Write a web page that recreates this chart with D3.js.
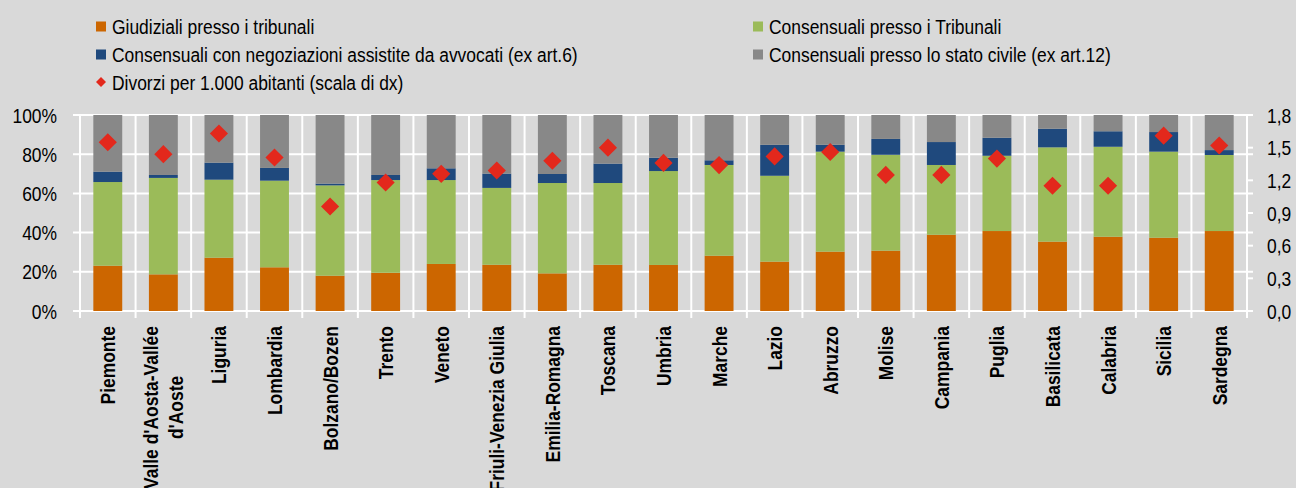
<!DOCTYPE html>
<html>
<head>
<meta charset="utf-8">
<script src="https://cdn.jsdelivr.net/npm/d3@7"></script>
<style>
  body { margin: 0; background: #d9d9d9; }
  svg { display: block; font-family: "Liberation Sans", Arial, sans-serif; }
</style>
</head>
<body>
<svg id="chart" width="1296" height="488"></svg>
<script>
const regions = ['Piemonte', "Valle d'Aosta-Vallée\nd'Aoste", 'Liguria', 'Lombardia', 'Bolzano/Bozen',
    'Trento', 'Veneto', 'Friuli-Venezia Giulia', 'Emilia-Romagna', 'Toscana', 'Umbria', 'Marche',
    'Lazio', 'Abruzzo', 'Molise', 'Campania', 'Puglia', 'Basilicata', 'Calabria', 'Sicilia', 'Sardegna'];

// quote % per tipo di procedimento
const giudiziali = [23.1, 18.7, 27.2, 22.3, 18.0, 19.5, 24.0, 23.6, 19.2, 23.6, 23.5, 28.2, 25.2, 30.3, 30.8, 38.9, 40.8, 35.4, 37.9, 37.4, 40.8];
const consTribunali = [42.7, 49.2, 39.8, 44.2, 46.1, 47.3, 42.8, 39.2, 46.1, 41.7, 47.9, 46.3, 43.8, 51.0, 48.9, 35.6, 38.4, 48.1, 45.9, 43.9, 38.8];
const consAvvocati = [5.3, 1.5, 8.7, 6.5, 0.9, 2.6, 6.0, 7.3, 4.6, 9.9, 6.8, 2.4, 15.8, 3.5, 8.1, 11.7, 9.2, 9.5, 7.9, 10.0, 2.5];
const consStatoCivile = [28.9, 30.6, 24.3, 27.0, 35.0, 30.6, 27.2, 29.9, 30.1, 24.8, 21.8, 23.1, 15.2, 15.2, 12.2, 13.8, 11.6, 7.0, 8.3, 8.7, 17.9];

// divorzi per 1.000 abitanti (scala di dx)
const divorzi = [1.55, 1.44, 1.63, 1.41, 0.96, 1.18, 1.26, 1.29, 1.38, 1.50, 1.36, 1.34, 1.42, 1.46, 1.25, 1.25, 1.40, 1.15, 1.15, 1.61, 1.52];

const leftTicks = [0, 20, 40, 60, 80, 100];
const rightTicks = [0, 0.3, 0.6, 0.9, 1.2, 1.5, 1.8];

const seriesKeys = ['giud', 'trib', 'avv', 'civ'];
const seriesNames = {
    giud: 'Giudiziali presso i tribunali',
    trib: 'Consensuali presso i Tribunali',
    avv: 'Consensuali con negoziazioni assistite da avvocati (ex art.6)',
    civ: 'Consensuali presso lo stato civile (ex art.12)'
};
const colors = {giud: '#cc6600', trib: '#9bbb59', avv: '#1f497d', civ: '#888888'};

const table = regions.map((r, i) => ({
    region: r,
    giud: giudiziali[i],
    trib: consTribunali[i],
    avv: consAvvocati[i],
    civ: consStatoCivile[i],
    div: divorzi[i]
}));

const svg = d3.select('#chart');
const plotLeft = 80, plotRight = 1247, plotTop = 115, plotBottom = 311;
const narrow = 0.83; // il font originale è un "narrow"

const x = d3.scaleBand()
    .domain(regions)
    .range([plotLeft, plotRight])
    .paddingInner(0.48)
    .paddingOuter(0.24);

const y = d3.scaleLinear().domain([0, 100]).range([plotBottom, plotTop]);
const y2 = d3.scaleLinear().domain([0, 1.8]).range([plotBottom, plotTop]);

const step = x.step();

// griglia orizzontale
svg.append('g')
    .attr('class', 'hgrid')
    .selectAll('line')
    .data(leftTicks)
    .enter().append('line')
    .attr('x1', plotLeft - 7)
    .attr('x2', plotRight + 6)
    .attr('y1', d => y(d))
    .attr('y2', d => y(d))
    .style('stroke', '#fff')
    .attr('stroke-width', 2);

// tacche destre
svg.append('g')
    .selectAll('line')
    .data(rightTicks)
    .enter().append('line')
    .attr('x1', plotRight)
    .attr('x2', plotRight + 6)
    .attr('y1', d => y2(d))
    .attr('y2', d => y2(d))
    .style('stroke', '#fff')
    .attr('stroke-width', 2);

// griglia verticale (confini categorie)
svg.append('g')
    .attr('class', 'vgrid')
    .selectAll('line')
    .data(d3.range(regions.length + 1))
    .enter().append('line')
    .attr('x1', i => plotLeft + i * step)
    .attr('x2', i => plotLeft + i * step)
    .attr('y1', plotTop)
    .attr('y2', plotBottom + 7)
    .style('stroke', '#fff')
    .attr('stroke-width', 2);

// barre impilate
const stacked = d3.stack().keys(seriesKeys)(table);

svg.append('g')
    .attr('class', 'bars')
    .selectAll('g')
    .data(stacked)
    .enter().append('g')
    .style('fill', d => colors[d.key])
    .selectAll('rect')
    .data(d => d)
    .enter().append('rect')
    .attr('x', d => x(d.data.region))
    .attr('width', x.bandwidth())
    .attr('y', d => y(d[1]))
    .attr('height', d => y(d[0]) - y(d[1]));

// rombi
svg.append('g')
    .attr('class', 'diamonds')
    .selectAll('path')
    .data(table)
    .enter().append('path')
    .attr('d', d3.symbol(d3.symbolSquare, 165))
    .attr('transform', d => `translate(${x(d.region) + x.bandwidth() / 2},${y2(d.div)}) rotate(45)`)
    .style('fill', '#e3281c');

// etichette asse sinistro
svg.append('g')
    .selectAll('text')
    .data(leftTicks)
    .enter().append('text')
    .attr('transform', d => `translate(57,${y(d)}) scale(${narrow},1)`)
    .attr('dy', '0.36em')
    .attr('text-anchor', 'end')
    .style('font-size', '21px')
    .text(d => d + '%');

// etichette asse destro
svg.append('g')
    .selectAll('text')
    .data(rightTicks)
    .enter().append('text')
    .attr('transform', d => `translate(1267,${y2(d)}) scale(${narrow},1)`)
    .attr('dy', '0.36em')
    .style('font-size', '21px')
    .text(d => d3.format('.1f')(d).replace('.', ','));

// etichette categorie (ruotate)
const labelTop = 326;
const labels = svg.append('g')
    .attr('class', 'xlabels')
    .selectAll('g')
    .data(regions)
    .enter().append('g')
    .attr('transform', d => `translate(${x(d) + x.bandwidth() / 2},${labelTop}) rotate(-90) scale(${narrow},1)`);

labels.each(function(d) {
    const g = d3.select(this);
    const lines = d.split('\n');
    const lh = 25;
    const t = g.append('text')
        .style('font-size', '21px')
        .style('font-weight', 'bold')
        .attr('text-anchor', lines.length > 1 ? 'middle' : 'end');
    if (lines.length === 1) {
        t.attr('dy', '0.36em').text(d);
        return;
    }
    lines.forEach((l, i) => {
        t.append('tspan')
            .attr('x', 0)
            .attr('y', (i - (lines.length - 1) / 2) * lh)
            .attr('dy', '0.36em')
            .text(l);
    });
    const w = d3.max(t.selectAll('tspan').nodes(), n => n.getComputedTextLength());
    t.selectAll('tspan').attr('x', -w / 2);
});

// legenda
const legendItems = [
    {key: 'giud', x: 96, y: 26.5},
    {key: 'trib', x: 753, y: 26.5},
    {key: 'avv', x: 96, y: 54.5},
    {key: 'civ', x: 753, y: 54.5}
];

const legend = svg.append('g').attr('class', 'legend');
legend.selectAll('rect')
    .data(legendItems)
    .enter().append('rect')
    .attr('x', d => d.x)
    .attr('y', d => d.y - 5)
    .attr('width', 10)
    .attr('height', 10)
    .style('fill', d => colors[d.key]);

legend.selectAll('text.item')
    .data(legendItems)
    .enter().append('text')
    .attr('class', 'item')
    .attr('transform', d => `translate(${d.x + 16},${d.y}) scale(${narrow},1)`)
    .attr('dy', '0.36em')
    .style('font-size', '21px')
    .text(d => seriesNames[d.key]);

legend.append('path')
    .attr('d', d3.symbol(d3.symbolSquare, 50))
    .attr('transform', 'translate(101,82) rotate(45)')
    .style('fill', '#e3281c');

legend.append('text')
    .attr('transform', `translate(112,82) scale(${narrow},1)`)
    .attr('dy', '0.36em')
    .style('font-size', '21px')
    .text('Divorzi per 1.000 abitanti (scala di dx)');
</script>
</body>
</html>
